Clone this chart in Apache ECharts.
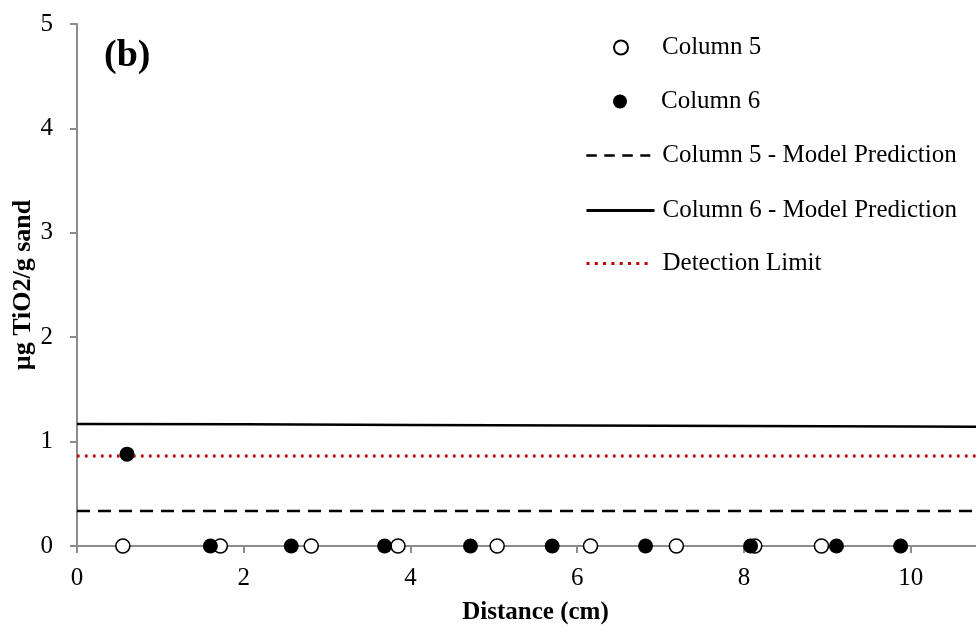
<!DOCTYPE html>
<html>
<head>
<meta charset="utf-8">
<script src="https://cdn.jsdelivr.net/npm/echarts@6/dist/echarts.min.js"></script>
<style>
  html, body { margin: 0; padding: 0; background: #fff; }
  #chart { width: 976px; height: 628px; }
</style>
</head>
<body>
<div id="chart"></div>
<script>
// Measured TiO2 along the column (µg TiO2 / g sand) versus distance (cm)
const column5 = [
  [0.55, 0], [1.72, 0], [2.81, 0], [3.85, 0], [5.04, 0],
  [6.16, 0], [7.19, 0], [8.13, 0], [8.93, 0]
];
const column6 = [
  [0.60, 0.88], [1.60, 0], [2.57, 0], [3.69, 0], [4.72, 0],
  [5.70, 0], [6.82, 0], [8.08, 0], [9.11, 0], [9.88, 0]
];

// Model predictions and detection limit
const modelX = [0, 2, 4, 6, 8, 10, 11];
const model5 = [0.335, 0.335, 0.335, 0.335, 0.335, 0.335, 0.335];
const model6 = [1.168, 1.165, 1.160, 1.155, 1.150, 1.145, 1.142];
const detectionLimit = [0.862, 0.862, 0.862, 0.862, 0.862, 0.862, 0.862];

const yTicks = [0, 1, 2, 3, 4, 5];
const xTicks = [0, 2, 4, 6, 8, 10];

const pair = (xs, ys) => xs.map((x, i) => [x, ys[i]]);

const FONT = '"Liberation Serif", "Times New Roman", serif';
const AXIS_COLOR = '#8c8c8c';

// One legend block per row so each icon/text pair sits where it should
const legendRow = (name, left, top, width, sample, gap) => {
  const row = {
    orient: 'vertical',
    padding: 0,
    selectedMode: false,
    data: [name],
    left: left,
    top: top,
    itemWidth: width,
    itemHeight: 14,
    textStyle: { fontFamily: FONT, fontSize: 25, color: '#000', padding: [0, 0, 0, gap] }
  };
  // line-only entries: hide the marker drawn in the middle of the line sample
  if (sample) {
    row.itemStyle = { opacity: 0 };
    row.lineStyle = sample;
  }
  return row;
};

const chart = echarts.init(document.getElementById('chart'), null, { renderer: 'canvas' });

chart.setOption({
  backgroundColor: '#fff',
  animation: false,
  title: {
    text: '(b)',
    left: 104,
    top: 37,
    padding: 0,
    textStyle: { fontFamily: FONT, fontSize: 38, fontWeight: 'bold', color: '#000' }
  },
  legend: [
    legendRow('Column 5', 613, 35, 14, null, 29),
    legendRow('Column 6', 613, 89, 14, null, 29),
    legendRow('Column 5 - Model Prediction', 585, 143, 64, { width: 2.6, type: [10.5, 7.5] }, 7),
    legendRow('Column 6 - Model Prediction', 585, 198, 68, { width: 3 }, 3),
    legendRow('Detection Limit', 585, 251, 66, { width: 3, type: [3, 5.3] }, 5)
  ],
  grid: {
    left: 77, right: -18, top: 24, bottom: 82,
    containLabel: false,
    outerBoundsMode: 'none'
  },
  xAxis: {
    type: 'value',
    min: 0,
    max: 11,
    interval: 2,
    name: 'Distance (cm)',
    nameLocation: 'middle',
    nameGap: 54,
    nameMoveOverlap: false,
    nameTextStyle: { fontFamily: FONT, fontSize: 25, fontWeight: 'bold', color: '#000' },
    axisLine: { show: true, onZero: false, lineStyle: { color: AXIS_COLOR, width: 2 } },
    axisTick: { show: true, inside: false, length: 7, lineStyle: { color: AXIS_COLOR, width: 2 } },
    axisLabel: {
      fontFamily: FONT, fontSize: 25, color: '#000', margin: 20,
      showMaxLabel: false,
      formatter: v => (xTicks.includes(v) ? String(v) : '')
    },
    splitLine: { show: false }
  },
  yAxis: {
    type: 'value',
    min: 0,
    max: 5,
    interval: 1,
    name: 'µg TiO2/g sand',
    nameLocation: 'middle',
    nameGap: 41,
    nameMoveOverlap: false,
    nameTextStyle: { fontFamily: FONT, fontSize: 26, fontWeight: 'bold', color: '#000' },
    axisLine: { show: true, lineStyle: { color: AXIS_COLOR, width: 2 } },
    axisTick: { show: true, inside: false, length: 7, lineStyle: { color: AXIS_COLOR, width: 2 } },
    axisLabel: {
      fontFamily: FONT, fontSize: 25, color: '#000', margin: 24,
      formatter: v => (yTicks.includes(v) ? String(v) : '')
    },
    splitLine: { show: false }
  },
  series: [
    {
      name: 'Column 5',
      type: 'scatter',
      data: column5,
      symbol: 'circle',
      symbolSize: 14,
      z: 3,
      itemStyle: { color: '#fff', borderColor: '#000', borderWidth: 1.6, opacity: 1 }
    },
    {
      name: 'Column 6',
      type: 'scatter',
      data: column6,
      symbol: 'circle',
      symbolSize: 15,
      z: 4,
      itemStyle: { color: '#000', borderColor: '#000', borderWidth: 0, opacity: 1 }
    },
    {
      name: 'Column 5 - Model Prediction',
      type: 'line',
      data: pair(modelX, model5),
      symbol: 'none',
      z: 2,
      lineStyle: { color: '#000', width: 2.5, type: [13, 8] },
      itemStyle: { color: '#000' }
    },
    {
      name: 'Column 6 - Model Prediction',
      type: 'line',
      data: pair(modelX, model6),
      symbol: 'none',
      z: 2,
      lineStyle: { color: '#000', width: 2.5, type: 'solid' },
      itemStyle: { color: '#000' }
    },
    {
      name: 'Detection Limit',
      type: 'line',
      data: pair(modelX, detectionLimit),
      symbol: 'none',
      z: 2,
      lineStyle: { color: '#c00000', width: 3, type: [2.6, 5.4], cap: 'butt' },
      itemStyle: { color: '#c00000' }
    }
  ]
});
</script>
</body>
</html>
